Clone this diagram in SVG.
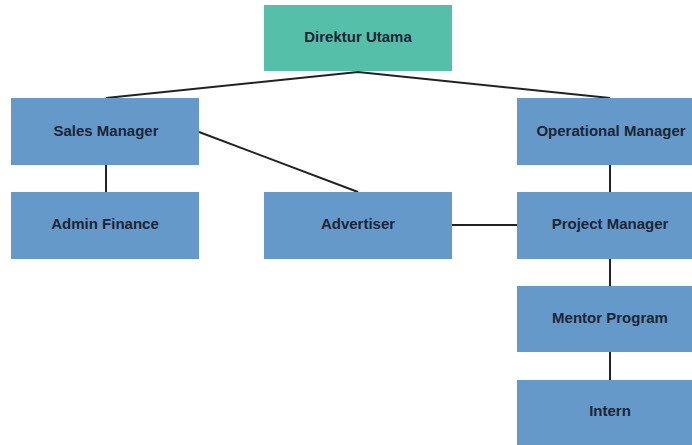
<svg xmlns="http://www.w3.org/2000/svg" width="692" height="445" viewBox="0 0 692 445">
<style>
.n{fill:#6599C9}
.top{fill:#55BFAA}
.t{font-family:"Liberation Sans",Arial,sans-serif;font-weight:bold;font-size:15px;fill:#1B2535;text-anchor:middle;dominant-baseline:central}
.c{stroke:#222;stroke-width:2;fill:none}
</style>
<rect width="692" height="445" fill="#fff"/>
<g id="connectors">
<path class="c" d="M358 72 L106 98 M358 72 L610 98"/>
<path class="c" d="M106 165 V192"/>
<path class="c" d="M199 132 L358 192"/>
<path class="c" d="M452 225 H517"/>
<path class="c" d="M610 165 V192 M610 259 V286 M610 352 V380"/>
</g>
<g id="direktur"><rect class="top" x="264" y="5" width="188" height="66"/><text class="t" x="358" y="36">Direktur Utama</text></g>
<g id="sales"><rect class="n" x="11" y="98" width="188" height="67"/><text class="t" x="106" y="130">Sales Manager</text></g>
<g id="admin"><rect class="n" x="11" y="192" width="188" height="67"/><text class="t" x="105" y="223">Admin Finance</text></g>
<g id="advertiser"><rect class="n" x="264" y="192" width="188" height="67"/><text class="t" x="358" y="223">Advertiser</text></g>
<g id="operational"><rect class="n" x="517" y="98" width="188" height="67"/><text class="t" x="611" y="130">Operational Manager</text></g>
<g id="project"><rect class="n" x="517" y="192" width="188" height="67"/><text class="t" x="610" y="223">Project Manager</text></g>
<g id="mentor"><rect class="n" x="517" y="286" width="188" height="66"/><text class="t" x="610" y="317">Mentor Program</text></g>
<g id="intern"><rect class="n" x="517" y="380" width="188" height="67"/><text class="t" x="610" y="410">Intern</text></g>
</svg>
